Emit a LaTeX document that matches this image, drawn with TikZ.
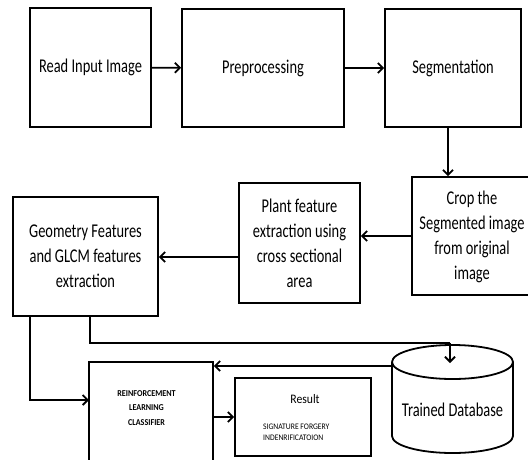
\documentclass[tikz,border=0pt]{standalone}
\usepackage{fontspec}
\setmainfont{Carlito}[FakeStretch=0.74]
\newfontfamily\lessnarrow{Carlito}[FakeStretch=0.9]
\usetikzlibrary{arrows.meta,calc}
\begin{document}
\begin{tikzpicture}[x=1pt,y=-1pt,
  box/.style={draw,line width=1.8pt,inner sep=0pt,align=center,
    font=\fontsize{19.5}{25}\selectfont},
  lbl/.style={inner sep=0pt,align=center,font=\fontsize{19.5}{25}\selectfont},
  arr/.style={line width=1.8pt,-{Straight Barb[length=5pt,width=10pt]}},
  ln/.style={line width=1.8pt}]
\useasboundingbox (0,0) rectangle (528,459);

\node[box,minimum width=121pt,minimum height=119pt] (read) at (90.5,67.5) {Read Input Image};
\node[box,minimum width=162pt,minimum height=118pt] (pre) at (263,68) {Preprocessing};
\node[box,minimum width=136pt,minimum height=118pt] (seg) at (453,68) {Segmentation};
\node[box,minimum width=130pt,minimum height=118pt] (crop) at (477,236) {};
\node[lbl] (croptext) at (472,237) {Crop the\\Segmented image\\from original\\image};
\node[box,minimum width=121pt,minimum height=120pt] (plant) at (299.5,243) {Plant feature\\extraction using\\cross sectional\\area};
\node[box,minimum width=145pt,minimum height=119pt] (geo) at (85.5,256.5) {Geometry Features\\and GLCM features\\extraction};
\node[box,minimum width=124pt,minimum height=100pt] (cls) at (151,412) {};
\node[inner sep=0pt,align=center,font=\lessnarrow\bfseries\fontsize{9}{14.5}\selectfont] (clstext) at (146.5,408) {REINFORCEMENT\\LEARNING\\CLASSIFIER};
\node[box,minimum width=136pt,minimum height=78pt] (res) at (303,417) {};
\node[inner sep=0pt,font=\lessnarrow\fontsize{13}{15}\selectfont] (restitle) at (305,399) {Result};
\node[inner sep=0pt,anchor=west,align=left,font=\lessnarrow\fontsize{8.5}{11}\selectfont] (ressub) at (263,432.5) {SIGNATURE FORGERY\\INDENRIFICATOION};

% cylinder
\draw[ln] (392,362) arc[start angle=180,end angle=-180,x radius=60.5,y radius=17];
\draw[ln] (392,362) -- (392,436) arc[start angle=180,end angle=0,x radius=60.5,y radius=17] -- (513,362);
\node[lbl] (db) at (452.5,410) {Trained Database};

% connectors
\draw[arr] (read) -- (pre);
\draw[arr] (pre) -- (seg);
\coordinate (s1) at (448,0);
\draw[arr] (s1 |- seg.south) -- (s1 |- crop.north);
\draw[arr] (crop.west |- 0,236) -- (plant.east |- 0,236);
\draw[arr] (plant.west |- 0,257) -- (geo.east |- 0,257);
\coordinate (k1) at (30,0);
\coordinate (k2) at (90,0);
\coordinate (cin) at (89,400);
\draw[arr] (k1 |- geo.south) |- (cin);
\coordinate (dbtop) at (450,343);
\coordinate (dbin) at (450,363);
\draw[ln] (k2 |- geo.south) |- (dbtop);
\draw[arr] (dbtop) -- (dbin);
\coordinate (dbleft) at (392,366);
\draw[arr] (dbleft) -- (cls.east |- dbleft);
\draw[arr] (cls.east |- 0,417) -- (res.west |- 0,417);
\end{tikzpicture}
\end{document}
